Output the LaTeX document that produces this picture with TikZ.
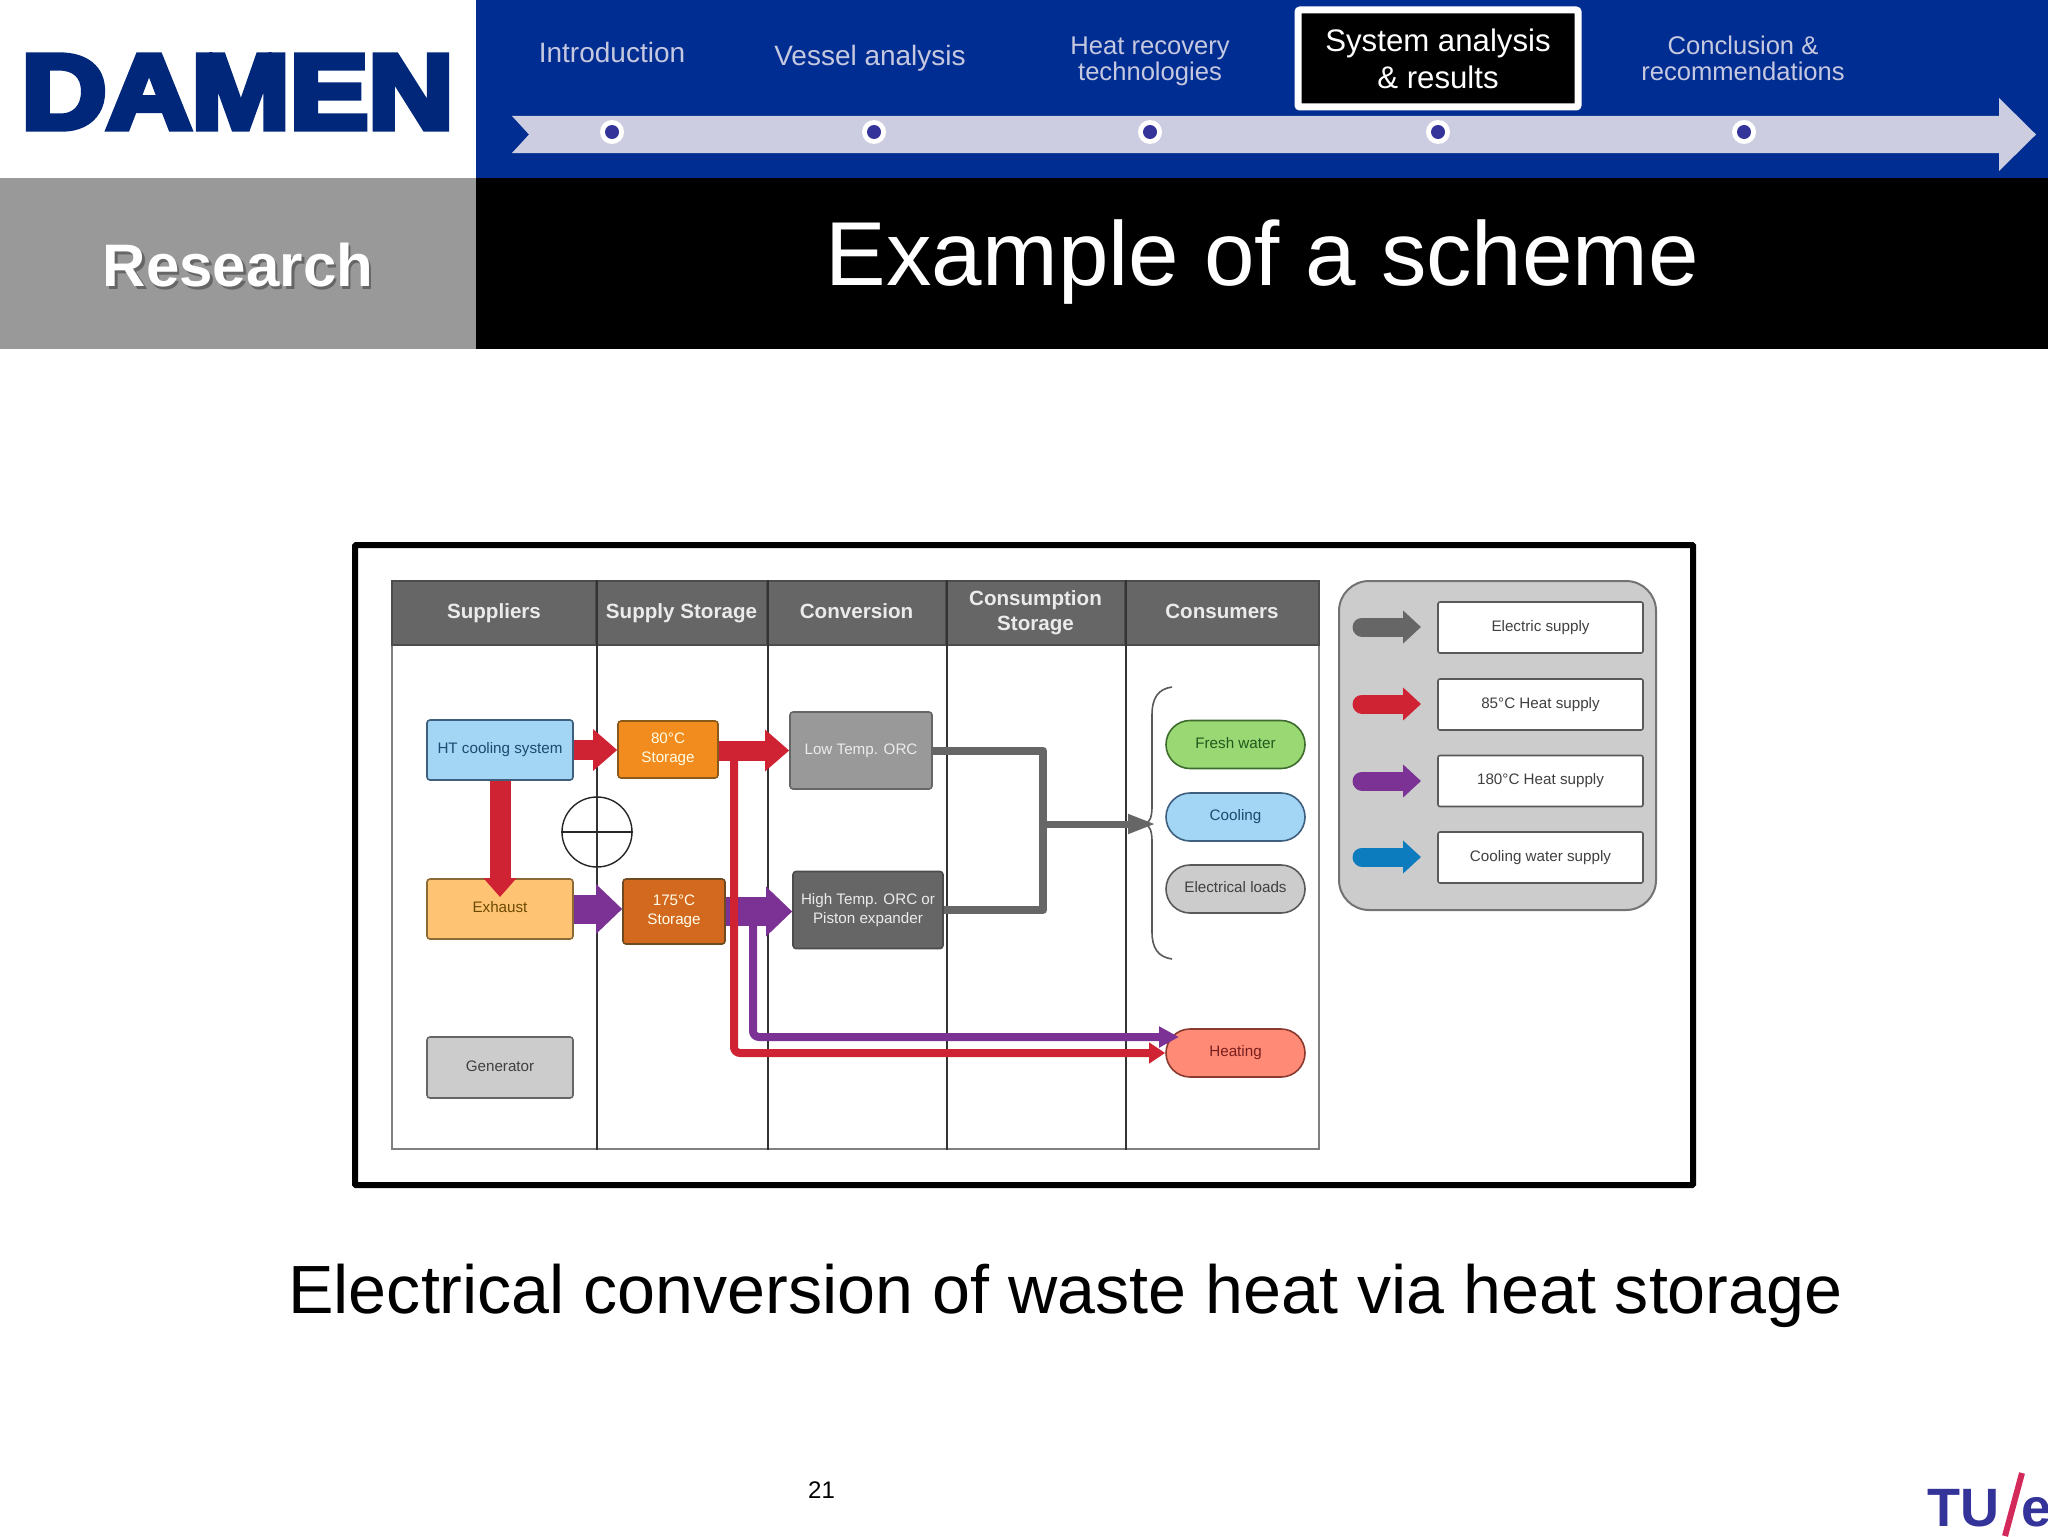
\documentclass[tikz,border=0pt]{standalone}
\usepackage{fontspec}
\setmainfont{Liberation Sans}
\newfontfamily\logofont[FakeBold=6]{Liberation Sans}
\usetikzlibrary{arrows.meta,shapes.misc}
\definecolor{navy}{HTML}{002D91}
\definecolor{logoblue}{HTML}{00277A}
\definecolor{band}{HTML}{CDCDE1}
\definecolor{navtxt}{HTML}{C6C8E0}
\definecolor{dotblue}{HTML}{333399}
\definecolor{hdr}{HTML}{666666}
\definecolor{fatred}{HTML}{CF2233}
\definecolor{fatpurple}{HTML}{7B3294}
\definecolor{fatgray}{HTML}{666666}
\definecolor{fatblue}{HTML}{0D7CBF}
\definecolor{skyfill}{HTML}{A3D5F5}
\definecolor{skyline}{HTML}{3F5F7F}
\definecolor{skytext}{HTML}{1C4A70}
\definecolor{sandfill}{HTML}{FFC374}
\definecolor{sandline}{HTML}{8A6A35}
\definecolor{sandtext}{HTML}{6B4A00}
\definecolor{orangefill}{HTML}{F28C1E}
\definecolor{orangeline}{HTML}{8A5A1A}
\definecolor{rustfill}{HTML}{D2691E}
\definecolor{rustline}{HTML}{6F4A20}
\definecolor{greenfill}{HTML}{99D873}
\definecolor{greenline}{HTML}{3E6B2E}
\definecolor{greentext}{HTML}{1F5A1F}
\definecolor{coralfill}{HTML}{FF8A75}
\definecolor{coralline}{HTML}{8B3A2F}
\definecolor{coraltext}{HTML}{7A1F1F}
\definecolor{slashred}{HTML}{D42A5B}
\tikzset{
  navitem/.style={text=navtxt,inner sep=0pt,align=center},
  navdot/.style={circle,fill=white,minimum size=12pt,inner sep=0pt},
  navcore/.style={circle,fill=dotblue,minimum size=7pt,inner sep=0pt},
  hcell/.style={rectangle,fill=hdr,draw=black!70,line width=0.6pt,text=white!92!black,
     inner sep=0pt,align=center,minimum height=32pt,font=\bfseries\fontsize{10.3}{12.4}\selectfont},
  hone/.style={hcell,text height=7.5pt,text depth=2.2pt},
  boxn/.style={rectangle,rounded corners=1.5pt,line width=0.8pt,inner sep=0pt,align=center,
     font=\fontsize{7.6}{9.3}\selectfont},
  oneline/.style={text height=6pt,text depth=2.2pt},
  oval/.style={rounded rectangle,line width=0.8pt,inner sep=0pt,align=center,oneline,
     minimum width=69.5pt,minimum height=24pt,font=\fontsize{7.6}{9.3}\selectfont},
  legbox/.style={rectangle,rounded corners=1pt,draw=black!65,line width=0.8pt,fill=white,inner sep=0pt,oneline,
     minimum width=102.5pt,minimum height=25.5pt,text=black!75,font=\fontsize{7.6}{9.3}\selectfont},
  bigred/.style={draw=fatred,line width=10pt,-{Triangle[length=12pt,width=20pt]}},
  downred/.style={draw=fatred,line width=10.5pt,-{Triangle[length=9.5pt,width=16pt]}},
  bigpurple/.style={draw=fatpurple,line width=14.5pt,-{Triangle[length=13pt,width=24pt]}},
  thinred/.style={draw=fatred,line width=4pt,rounded corners=3pt,-{Triangle[length=8pt,width=10pt]}},
  thinpurple/.style={draw=fatpurple,line width=4pt,rounded corners=3pt,-{Triangle[length=10pt,width=10pt]}},
  wire/.style={draw=fatgray,line width=4pt,line join=round},
  legarrow/.style={line width=9.5pt,line cap=round,-{Triangle[length=9pt,width=16pt]}},
}
\begin{document}
\begin{tikzpicture}[x=0.5pt,y=-0.5pt]
\useasboundingbox (0,0) rectangle (2048,1536);
\fill[white] (0,0) rectangle (2048,1536);
% banner
\fill[navy] (476,0) rectangle (2048,178);
\fill[black] (476,178) rectangle (2048,349);
\fill[black!40] (0,178) rectangle (476,349);
\begin{scope}
\clip (0,53) rectangle (476,134);
\node[inner sep=0pt,text=logoblue] (logo) at (237.5,92) {\resizebox{216pt}{36.5pt}{\logofont\bfseries DAMEN}};
\end{scope}
% timeline band
\fill[band] (512,116) -- (1999,116) -- (1999,98) -- (2036,134.5) -- (1999,171) -- (1999,153) -- (512,153) -- (529,134.5) -- cycle;
\foreach \nx/\px in {a/612,b/874,c/1150,d/1438,e/1744}{
  \node[navdot] (dot\nx) at (\px,132) {};
  \node[navcore] at (dot\nx) {};
}
\node[navitem,font=\fontsize{14}{17}\selectfont,anchor=base] (nav1) at (612,63) {Introduction};
\node[navitem,font=\fontsize{14}{17}\selectfont,anchor=base] (nav2) at (870,66) {Vessel analysis};
\node[navitem,font=\fontsize{12.8}{13}\selectfont] (nav3) at (1150,61) {Heat recovery\\technologies};
\node[rectangle,rounded corners=1pt,draw=white,line width=3.5pt,fill=black,text=white,inner sep=0pt,align=center,
  minimum width=140pt,minimum height=48.5pt,font=\fontsize{15.6}{18.5}\selectfont] (nav4) at (1438,58.5) {System analysis\\\& results};
\node[navitem,font=\fontsize{12.8}{13}\selectfont] (nav5) at (1743,58) {Conclusion \&\\recommendations};
% titles
\node[inner sep=0pt,anchor=base,text=black!60,font=\bfseries\fontsize{30}{36}\selectfont] (resshadow) at (240.5,289.5) {Research};
\node[inner sep=0pt,anchor=base,text=white,font=\bfseries\fontsize{30}{36}\selectfont] (research) at (238,286) {Research};
\node[inner sep=0pt,anchor=base,text=white,font=\fontsize{45.4}{54}\selectfont] (title) at (1262.5,285) {Example of a scheme};
\node[inner sep=0pt,anchor=base,font=\fontsize{34.1}{41}\selectfont] (sub) at (1065.5,1313) {Electrical conversion of waste heat via heat storage};
\node[inner sep=0pt,anchor=base,font=\fontsize{12}{14}\selectfont] (page) at (821.5,1498) {21};
% TU/e
\node[inner sep=0pt,anchor=base west,text=dotblue,font=\bfseries\fontsize{27}{33}\selectfont] (tu) at (1927,1526) {TU};
\node[inner sep=0pt,anchor=base west,text=dotblue,font=\bfseries\fontsize{27}{33}\selectfont] (tue) at (2021,1526) {e};
\coordinate (slashtop) at (2022,1473);
\coordinate (slashbot) at (2005,1536);
\draw[draw=slashred,line width=3pt] (slashtop) -- (slashbot);
% picture frame
\draw[black,line width=3pt,fill=white,rounded corners=0.5pt] (355,545) rectangle (1693,1185);
% table
\node[rectangle,draw=black!50,line width=1pt,fill=white,minimum width=463.5pt,minimum height=284pt,inner sep=0pt] (tbl) at (855.5,865) {};
\node[hone,minimum width=102pt] (h1) at (494,613) {Suppliers};
\node[hone,minimum width=85.5pt] (h2) at (681.5,613) {Supply Storage};
\node[hone,minimum width=89.5pt] (h3) at (856.5,613) {Conversion};
\node[hcell,minimum width=89.5pt] (h4) at (1035.5,613) {\raisebox{0.6pt}{Consumption}\\\raisebox{0.6pt}{Storage}};
\node[hone,minimum width=97pt] (h5) at (1222,613) {Consumers};
\foreach \c in {h1,h2,h3,h4}{
  \draw[black!80,line width=0.9pt] (\c.north east) -- (\c.north east |- tbl.south);
}
% phase symbol
\node[circle,draw=black!85,line width=0.7pt,minimum size=35pt,inner sep=0pt] (sym) at (597,832) {};
\draw[black!85,line width=0.7pt] (sym.west) -- (sym.east);
% boxes
\node[boxn,oneline,draw=skyline,fill=skyfill,text=skytext,minimum width=73pt,minimum height=30pt] (ht) at (500,750) {HT cooling system};
\node[boxn,oneline,draw=sandline,fill=sandfill,text=sandtext,minimum width=73pt,minimum height=30pt] (exh) at (500,909) {Exhaust};
\node[boxn,oneline,draw=black!60,fill=black!20,text=black!75,minimum width=73pt,minimum height=30.5pt] (gen) at (500,1067.5) {Generator};
\node[boxn,draw=orangeline,fill=orangefill,text=white!90!yellow,minimum width=50pt,minimum height=28.5pt] (s80) at (668,749.5) {80°C\\Storage};
\node[boxn,draw=rustline,fill=rustfill,text=white!92!yellow,minimum width=51pt,minimum height=32.5pt] (s175) at (674,911.5) {175°C\\Storage};
\node[boxn,oneline,draw=black!60,fill=black!40,text=white!92!black,minimum width=71pt,minimum height=38.5pt] (low) at (861,750.5) {Low Temp. ORC};
\node[boxn,draw=black!70,fill=black!60,text=white!92!black,minimum width=75pt,minimum height=38.5pt] (high) at (868,910) {High Temp. ORC or\\Piston expander};
% consumers
\node[oval,draw=greenline,fill=greenfill,text=greentext] (fresh) at (1235.5,744.5) {Fresh water};
\node[oval,draw=skyline,fill=skyfill,text=skytext] (cool) at (1235.5,817) {Cooling};
\node[oval,draw=black!65,fill=black!20,text=black!75] (elec) at (1235.5,889) {Electrical loads};
\node[oval,draw=coralline,fill=coralfill,text=coraltext] (heat) at (1235.5,1053) {Heating};
% brace
\coordinate (bracetip) at (1145,824);
\draw[black!65,line width=0.8pt] (1172,687) .. controls (1158,689) and (1152,698) .. (1152,715) -- (1152,806)
  .. controls (1152,817) and (1150,822) .. (bracetip) .. controls (1150,826) and (1152,831) .. (1152,842) -- (1152,932)
  .. controls (1152,948) and (1158,957) .. (1172,959);
% flows
\draw[bigred] (ht.east) -- (ht.east -| s80.west);
\coordinate (exhtip) at (500,897);
\draw[downred] (ht.south) -- (exhtip);
\coordinate (redfork) at (734,750);
\coordinate (purplefork) at (753,911);
\coordinate (purpleend) at (1179,1037);
\draw[bigpurple] (exh.east) -- (exh.east -| s175.west);
\draw[bigpurple] (s175.east) -- (s175.east -| high.west);
\draw[thinpurple] (purplefork) -- (753,1037) -- (purpleend);
\draw[thinred] (redfork) -- (734,1053) -- (heat.west);
\draw[bigred] (s80.east |- low.west) -- (low.west);
% electric wires
\coordinate (busjoin) at (1043,824);
\coordinate (bracein) at (1156,824);
\draw[wire] (low.east) -- (1043,750.5) -- (1043,910) -- (high.east);
\draw[draw=fatgray,line width=3.5pt,-{Triangle[length=14pt,width=9pt]}] (busjoin) -- (bracein);
% legend
\node[rectangle,rounded corners=15pt,draw=black!55,line width=1pt,fill=black!20,minimum width=158.5pt,minimum height=164.5pt,inner sep=0pt] (leg) at (1497.5,745.5) {};
\node[legbox] (l1) at (1540.5,627.5) {Electric supply};
\node[legbox] (l2) at (1540.5,704.5) {85°C Heat supply};
\node[legbox] (l3) at (1540.5,781) {180°C Heat supply};
\node[legbox] (l4) at (1540.5,857.5) {Cooling water supply};
\coordinate (a1) at (1362,627); \coordinate (a2) at (1362,704); \coordinate (a3) at (1362,781); \coordinate (a4) at (1362,857);
\draw[legarrow,draw=fatgray] (a1) -- (a1 -| 1421,0);
\draw[legarrow,draw=fatred] (a2) -- (a2 -| 1421,0);
\draw[legarrow,draw=fatpurple] (a3) -- (a3 -| 1421,0);
\draw[legarrow,draw=fatblue] (a4) -- (a4 -| 1421,0);
\end{tikzpicture}
\end{document}
